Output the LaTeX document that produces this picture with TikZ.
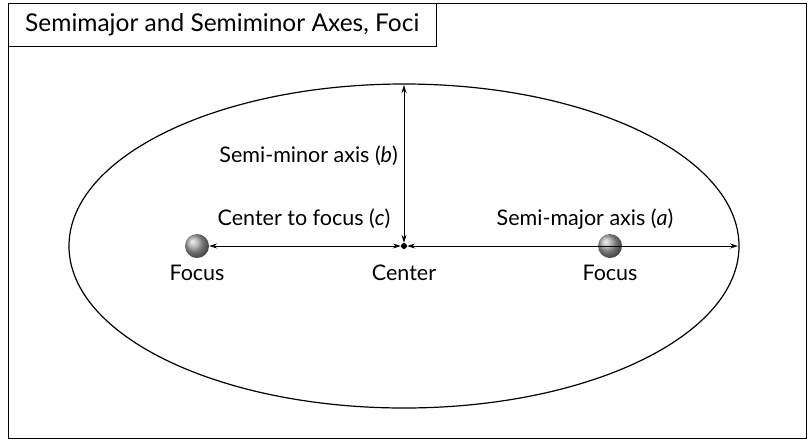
\documentclass[tikz,border=0pt]{standalone}
\usepackage{fontspec}
\setmainfont{Lato}
\usetikzlibrary{arrows.meta}
\tikzset{
  lbl/.style={font=\fontsize{21.5}{24}\selectfont, inner sep=0pt},
  ttl/.style={font=\fontsize{24.5}{28}\selectfont, inner sep=0pt},
  axis/.style={line width=0.9pt, {Stealth[length=8pt,width=5pt]}-{Stealth[length=8pt,width=5pt]}},
  frame/.style={line width=1pt},
  ball/.style={circle, minimum size=24pt, inner sep=0pt, shading=ball, ball color=gray!70},
}
\begin{document}
\begin{tikzpicture}[x=1pt,y=-1pt]
\useasboundingbox (0,0) rectangle (808,440);
\draw[frame] (8,3) rectangle (806,438);
\draw[frame] (8,3) rectangle (436,46);
\node[ttl, anchor=west] (title) at (25,25) {Semimajor and Semiminor Axes, Foci};
\draw[line width=1.2pt] (404,246) ellipse [x radius=335, y radius=162];
\node[circle, fill=black, minimum size=6pt, inner sep=0pt] (c) at (404,246) {};
\node[ball] (f1) at (197,246) {};
\node[ball] (f2) at (610,246) {};
\coordinate (top) at (404,85);
\coordinate (right) at (738,246);
\draw[axis] (f1.east) -- (c.west);
\draw[axis] (c.east) -- (right);
\draw[axis] (c.north) -- (top);
\node[lbl, anchor=east] (lb) at (398,156) {Semi-minor axis (\textit{b})};
\node[lbl] (lc) at (304,219) {Center to focus (\textit{c})};
\node[lbl] (la) at (585,219) {Semi-major axis (\textit{a})};
\node[lbl] (n1) at (197,273) {Focus};
\node[lbl] (n2) at (404,273) {Center};
\node[lbl] (n3) at (610,273) {Focus};
\end{tikzpicture}
\end{document}
